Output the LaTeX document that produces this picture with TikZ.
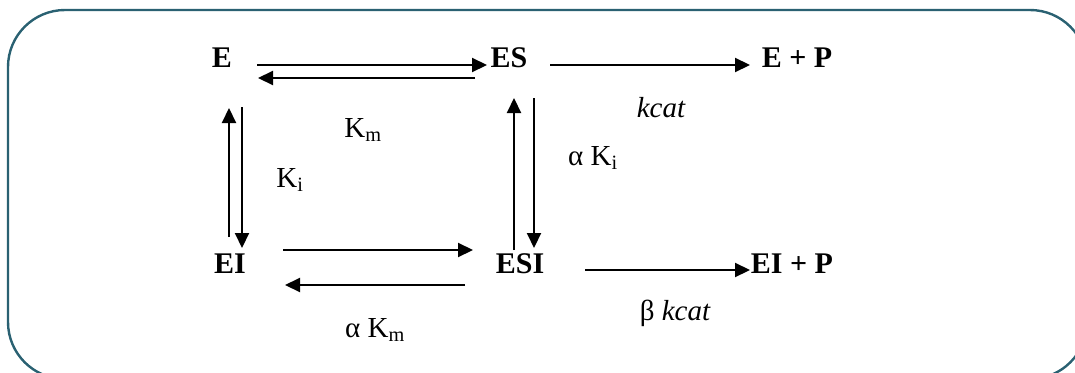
\documentclass[tikz,border=0pt]{standalone}
\usepackage{fontspec}
\setmainfont{Liberation Serif}
\usetikzlibrary{arrows.meta}
\definecolor{frameteal}{HTML}{2A6172}
\tikzset{
  species/.style={inner sep=0pt, font=\fontsize{30}{36}\selectfont\bfseries},
  rate/.style={inner sep=0pt, font=\fontsize{29}{35}\selectfont},
  arr/.style={line width=2.1pt, -{Triangle[length=15pt,width=14pt]}},
}
\begin{document}
\begin{tikzpicture}[x=1pt,y=-1pt]
\useasboundingbox (0,0) rectangle (1075,372);
\begin{scope}
\clip (0,0) rectangle (1075,372);
\draw[frameteal, line width=2.4pt, rounded corners=57pt] (8,10) rectangle (1087,379);
\end{scope}
% species
\node[species] (E) at (222,58) {E};
\node[species] (ES) at (509,58) {ES};
\node[species] (EP) at (797,58) {E + P};
\node[species] (EI) at (230,264) {EI};
\node[species] (ESI) at (520,264) {ESI};
\node[species] (EIP) at (792,264) {EI + P};
% rate labels
\node[rate] (Km) at (363,130) {K\textsubscript{m}};
\node[rate] (kcat) at (661,108) {\itshape kcat};
\node[rate] (Ki) at (290,180) {K\textsubscript{i}};
\node[rate] (aKi) at (593,158) {α K\textsubscript{i}};
\node[rate] (aKm) at (375,330) {α K\textsubscript{m}};
\node[rate] (bkcat) at (675,313) {β \itshape kcat};
% arrows
\draw[arr] ([shift={(35,7)}]E.center) -- ([shift={(-22,7)}]ES.center);
\draw[arr] ([shift={(-34,20)}]ES.center) -- ([shift={(36,20)}]E.center);
\draw[arr] ([shift={(41,7)}]ES.center) -- ([shift={(-47,7)}]EP.center);
\draw[arr] ([shift={(-1,-27)}]EI.center) -- ([shift={(7,50)}]E.center);
\draw[arr] ([shift={(20,49)}]E.center) -- ([shift={(12,-16)}]EI.center);
\draw[arr] ([shift={(-6,-14)}]ESI.center) -- ([shift={(5,40)}]ES.center);
\draw[arr] ([shift={(25,40)}]ES.center) -- ([shift={(14,-16)}]ESI.center);
\draw[arr] ([shift={(53,-14)}]EI.center) -- ([shift={(-47,-14)}]ESI.center);
\draw[arr] ([shift={(-55,21)}]ESI.center) -- ([shift={(55,21)}]EI.center);
\draw[arr] ([shift={(65,6)}]ESI.center) -- ([shift={(-42,6)}]EIP.center);
\end{tikzpicture}
\end{document}
